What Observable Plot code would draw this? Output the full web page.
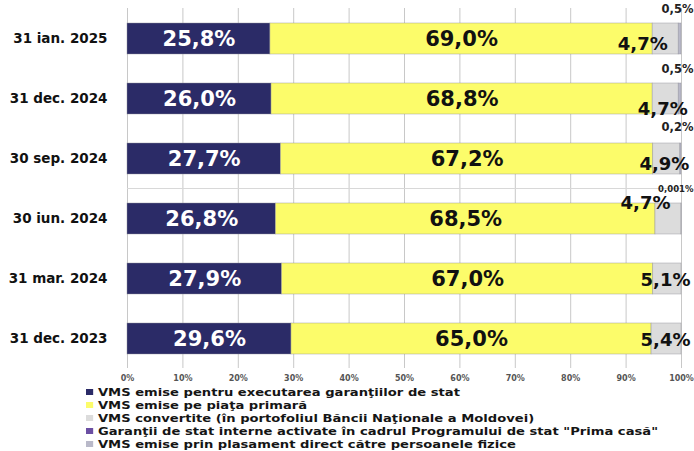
<!DOCTYPE html>
<html><head><meta charset="utf-8">
<script src="https://cdn.jsdelivr.net/npm/d3@7"></script>
<script src="https://cdn.jsdelivr.net/npm/@observablehq/plot@0.6"></script>
<style>
body{margin:0;background:#fff;}
#chart svg{display:block;}
#legend{margin-left:86px;font-family:"DejaVu Sans",Verdana,sans-serif;font-weight:bold;font-size:11px;line-height:13px;color:#151515;white-space:nowrap;transform-origin:0 0;}
#legend .sw{display:inline-block;width:6px;height:6px;margin-right:4px;vertical-align:1px;}
</style></head><body>
<div id="chart"></div>
<div id="legend"></div>
<script>
const dates = ["31 ian. 2025","31 dec. 2024","30 sep. 2024","30 iun. 2024","31 mar. 2024","31 dec. 2023"];
const seriesNames = [
  "VMS emise pentru executarea garanţiilor de stat",
  "VMS emise pe piaţa primară",
  "VMS convertite (în portofoliul Băncii Naţionale a Moldovei)",
  "Garanţii de stat interne activate în cadrul Programului de stat \"Prima casă\"",
  "VMS emise prin plasament direct către persoanele fizice"
];
const garantiiValues   = [25.8, 26.0, 27.7, 26.8, 27.9, 29.6];
const piataValues      = [69.0, 68.8, 67.2, 68.5, 67.0, 65.0];
const convertiteValues = [4.7, 4.7, 4.9, 4.7, 5.1, 5.4];
const primaCasaValues  = [0, 0, 0, 0, 0, 0];
const plasamentValues  = [0.5, 0.5, 0.2, 0.001, 0, 0];
const seriesColors = ["#2b2b67", "#fcfc6a", "#dcdcdc", "#6b4fa3", "#b9b9c9"];
const xTicks = [0, 10, 20, 30, 40, 50, 60, 70, 80, 90, 100];

const seriesValues = [garantiiValues, piataValues, convertiteValues, primaCasaValues, plasamentValues];
const fmt = v => String(v).replace(".", ",") + "%";
const fmt1 = v => v.toFixed(1).replace(".", ",") + "%";

const rows = [];
dates.forEach((d, i) => {
  let cum = 0;
  seriesNames.forEach((s, k) => {
    const v = seriesValues[k][i];
    rows.push({date: d, series: s, k, value: v, start: cum, mid: cum + v / 2, end: cum + v});
    cum += v;
  });
});

// label offsets (layout only)
const grayNudge = [[-11, 5], [9, 10], [9, 5], [-11, -16], [9, 1], [9, 1]];
const smallNudge = [-30, -30, -32, -30, 0, 0];

const marks = [
  Plot.gridX(xTicks, {stroke: "#c8c8c8", strokeOpacity: 1}),
  Plot.ruleY([0], {y: null, frameAnchor: "bottom", stroke: "#d8d8d8"}),
  Plot.barX(rows, {y: "date", x1: "start", x2: "end", fill: "series", stroke: "#8e8e9a", strokeWidth: 0.6, strokeOpacity: 0.7}),
  Plot.text(rows.filter(r => r.k === 0), {x: "mid", y: "date", text: r => fmt1(r.value), fill: "white", fontSize: 21, fontWeight: "bold"}),
  Plot.text(rows.filter(r => r.k === 1), {x: "mid", y: "date", text: r => fmt1(r.value), fill: "#111", fontSize: 21, fontWeight: "bold"})
];
dates.forEach((d, i) => {
  const g = rows.filter(r => r.date === d && r.k === 2);
  marks.push(Plot.text(g, {x: "end", y: "date", text: r => fmt1(r.value), textAnchor: "end", dx: grayNudge[i][0], dy: grayNudge[i][1], fill: "#111", fontSize: 18, fontWeight: "bold"}));
  const p = rows.filter(r => r.date === d && r.k === 4 && r.value > 0);
  if (p.length) {
    const tiny = p[0].value < 0.01;
    marks.push(Plot.text(p, {x: 100, y: "date", text: r => fmt(r.value), textAnchor: "end", dx: 12, dy: smallNudge[i], fill: "#222", fontSize: tiny ? 8.5 : 11.5, fontWeight: "bold"}));
  }
});
marks.push(Plot.axisY({tickSize: 0, tickPadding: 20, fontSize: 13.5, fontWeight: "bold", fill: "#111", label: null}));
marks.push(Plot.axisX(xTicks, {tickSize: 0, tickPadding: 7, fontSize: 8, fontWeight: "bold", fill: "#555", tickFormat: d => d + "%", label: null}));

const chart = Plot.plot({
  width: 694,
  height: 386,
  marginLeft: 127,
  marginRight: 13,
  marginTop: 8,
  marginBottom: 18,
  style: {fontFamily: "DejaVu Sans", background: "white", overflow: "visible"},
  x: {domain: [0, 100]},
  y: {domain: dates, paddingInner: 0.485, paddingOuter: 0.23},
  color: {domain: seriesNames, range: seriesColors},
  marks
});
document.getElementById("chart").appendChild(chart);

const legend = document.getElementById("legend");
const lines = [];
seriesNames.forEach((s, k) => {
  const line = document.createElement("div");
  const sw = document.createElement("span");
  sw.className = "sw";
  sw.style.background = seriesColors[k];
  line.appendChild(sw);
  const t = document.createElement("span");
  t.textContent = s;
  line.appendChild(t);
  lines.push(line);
  legend.appendChild(line);
});
// stretch legend horizontally so its longest line ends near the right edge, as in the reference
const w = Math.max(...lines.map(l => { const r = document.createRange(); r.selectNodeContents(l); return r.getBoundingClientRect().width; }));
if (w > 0) legend.style.transform = `scaleX(${Math.min(1.5, 572 / w)})`;
</script>
</body></html>
